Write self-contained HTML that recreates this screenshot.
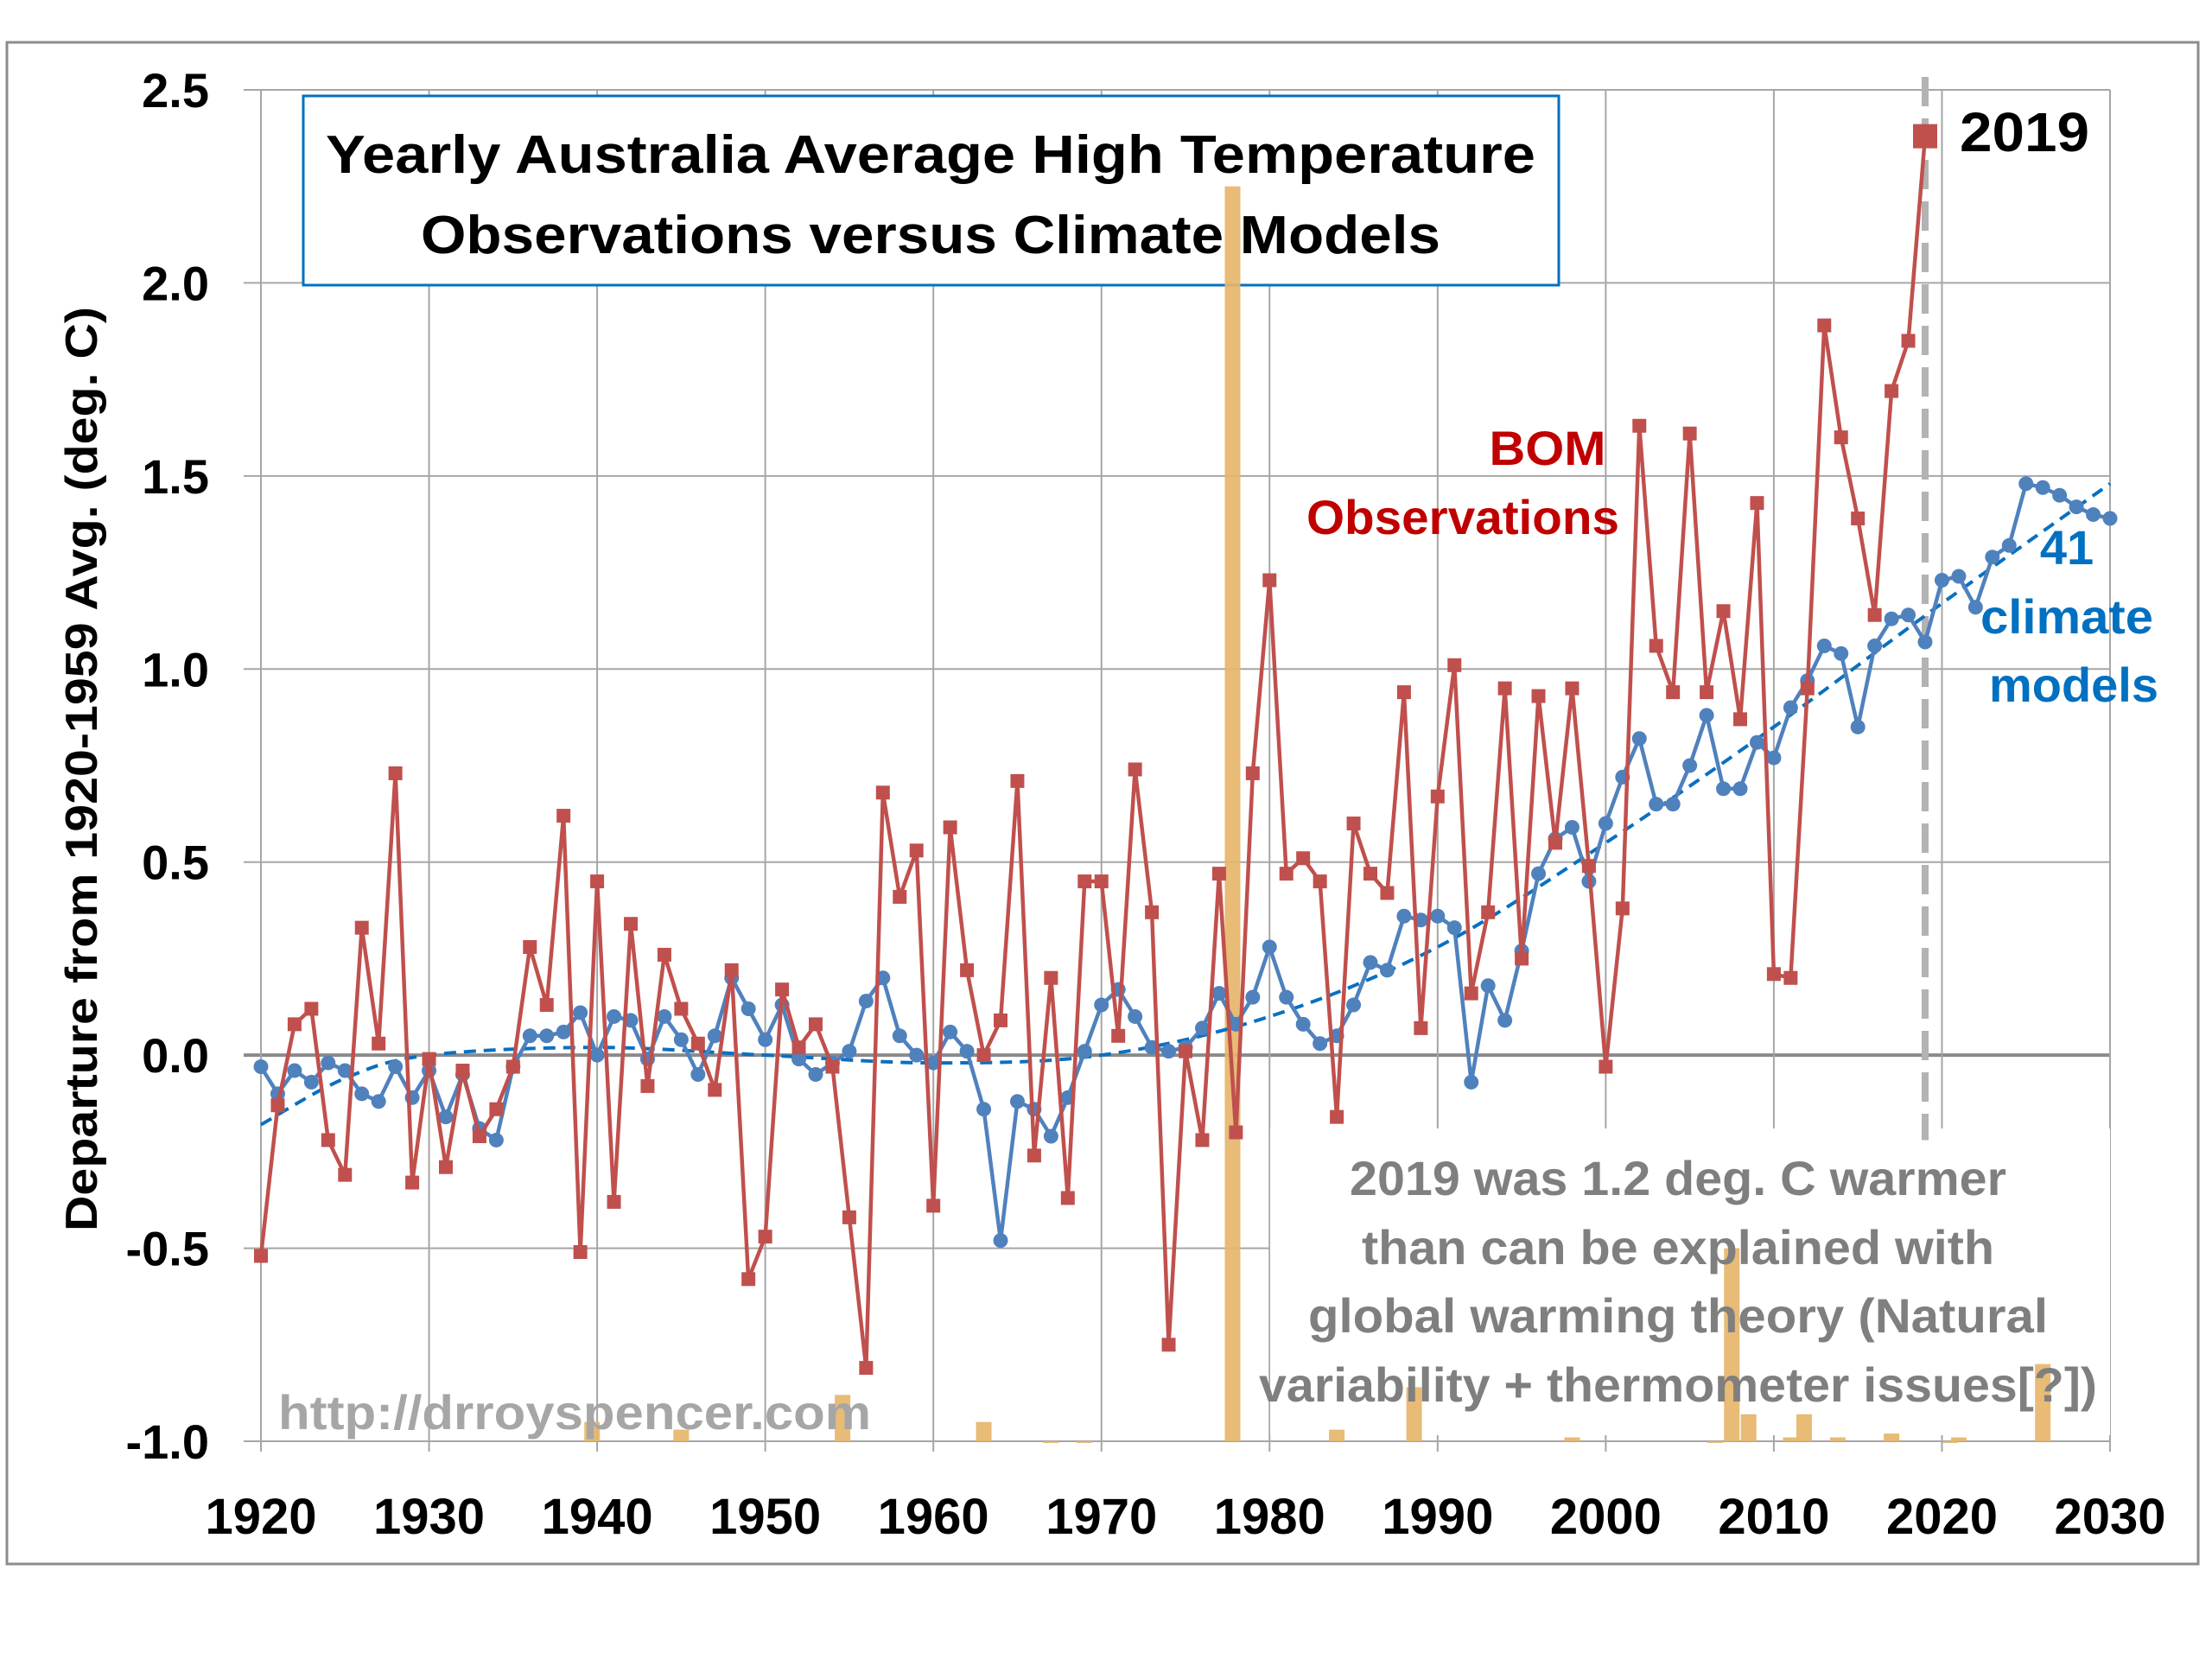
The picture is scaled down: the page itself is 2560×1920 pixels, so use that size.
<!DOCTYPE html>
<html><head><meta charset="utf-8"><style>
html,body{margin:0;padding:0;background:#fff;}
svg{display:block;}
text{font-family:"Liberation Sans",sans-serif;font-weight:bold;}
</style></head><body>
<svg id="chart" width="2560" height="1920" viewBox="0 0 2560 1920" xmlns="http://www.w3.org/2000/svg">
<rect x="8" y="49" width="2536" height="1761" fill="#fff" stroke="#8c8c8c" stroke-width="3"/>
<g id="grid"></g>
<rect x="1470" y="1306" width="972" height="355" fill="#fff"/>
<rect x="351" y="111" width="1453" height="219" fill="#fff" stroke="#0070c0" stroke-width="3"/>
<text x="1077" y="200" font-size="62" text-anchor="middle" textLength="1400" lengthAdjust="spacingAndGlyphs">Yearly Australia Average High Temperature</text>
<text x="1077" y="293" font-size="62" text-anchor="middle" textLength="1180" lengthAdjust="spacingAndGlyphs">Observations versus Climate Models</text>
<g id="bars"></g>
<g id="series"></g>
<g id="axes"></g>
<text transform="translate(112,890) rotate(-90)" x="0" y="0" font-size="52" text-anchor="middle" textLength="1070" lengthAdjust="spacingAndGlyphs">Departure from 1920-1959 Avg. (deg. C)</text>
<text x="1791" y="538" font-size="56" fill="#c00000" text-anchor="middle" textLength="135" lengthAdjust="spacingAndGlyphs">BOM</text>
<text x="1693" y="618" font-size="56" fill="#c00000" text-anchor="middle" textLength="362" lengthAdjust="spacingAndGlyphs">Observations</text>
<text x="2392" y="653" font-size="56" fill="#0070c0" text-anchor="middle">41</text>
<text x="2392" y="733" font-size="56" fill="#0070c0" text-anchor="middle" textLength="200" lengthAdjust="spacingAndGlyphs">climate</text>
<text x="2400" y="812" font-size="56" fill="#0070c0" text-anchor="middle" textLength="196" lengthAdjust="spacingAndGlyphs">models</text>
<text x="2268" y="175" font-size="64" fill="#000" textLength="150" lengthAdjust="spacingAndGlyphs">2019</text>
<text x="322" y="1654" font-size="56" fill="#a6a6a6" textLength="686" lengthAdjust="spacingAndGlyphs">http://drroyspencer.com</text>
<g fill="#7f7f7f" font-size="56" text-anchor="middle">
<text x="1942" y="1383" textLength="760" lengthAdjust="spacingAndGlyphs">2019 was 1.2 deg. C warmer</text>
<text x="1942" y="1463" textLength="732" lengthAdjust="spacingAndGlyphs">than can be explained with</text>
<text x="1942" y="1542" textLength="856" lengthAdjust="spacingAndGlyphs">global warming theory (Natural</text>
<text x="1942" y="1622" textLength="970" lengthAdjust="spacingAndGlyphs">variability + thermometer issues[?])</text>
</g>
</svg>
<script>
const bomYears = [];
for (let y = 1920; y <= 2019; y++) bomYears.push(y);
const bomValues = [-0.52,-0.13,0.08,0.12,-0.22,-0.31,0.33,0.03,0.73,-0.33,
-0.01,-0.29,-0.04,-0.21,-0.14,-0.03,0.28,0.13,0.62,-0.51,
0.45,-0.38,0.34,-0.08,0.26,0.12,0.03,-0.09,0.22,-0.58,
-0.47,0.17,0.02,0.08,-0.03,-0.42,-0.81,0.68,0.41,0.53,
-0.39,0.59,0.22,0.00,0.09,0.71,-0.26,0.20,-0.37,0.45,
0.45,0.05,0.74,0.37,-0.75,0.01,-0.22,0.47,-0.20,0.73,
1.23,0.47,0.51,0.45,-0.16,0.60,0.47,0.42,0.94,0.07,
0.67,1.01,0.16,0.37,0.95,0.25,0.93,0.55,0.95,0.49,
-0.03,0.38,1.63,1.06,0.94,1.61,0.94,1.15,0.87,1.43,
0.21,0.20,0.95,1.89,1.60,1.39,1.14,1.72,1.85,2.38];
const modelYears = [];
for (let y = 1920; y <= 2030; y++) modelYears.push(y);
const modelValues = [-0.03,-0.10,-0.04,-0.07,-0.02,-0.04,-0.10,-0.12,-0.03,-0.11,
-0.04,-0.16,-0.05,-0.19,-0.22,-0.03,0.05,0.05,0.06,0.11,
0.00,0.10,0.09,-0.01,0.10,0.04,-0.05,0.05,0.20,0.12,
0.04,0.13,-0.01,-0.05,-0.02,0.01,0.14,0.20,0.05,0.00,
-0.02,0.06,0.01,-0.14,-0.48,-0.12,-0.14,-0.21,-0.11,0.01,
0.13,0.17,0.10,0.02,0.01,0.02,0.07,0.16,0.08,0.15,
0.28,0.15,0.08,0.03,0.05,0.13,0.24,0.22,0.36,0.35,
0.36,0.33,-0.07,0.18,0.09,0.27,0.47,0.56,0.59,0.45,
0.60,0.72,0.82,0.65,0.65,0.75,0.88,0.69,0.69,0.81,
0.77,0.90,0.97,1.06,1.04,0.85,1.06,1.13,1.14,1.07,
1.23,1.24,1.16,1.29,1.32,1.48,1.47,1.45,1.42,1.40,1.39];
const trendYears = [1920,1925,1930,1940,1950,1960,1970,1980,1990,2000,2010,2020,2030];
const trendValues = [-0.18,-0.06,0.0,0.02,0.0,-0.02,0.0,0.1,0.28,0.55,0.85,1.17,1.48];
const barYears = [1939.7,1945,1954.6,1963,1967,1969,1977.8,1984,1988.6,1998,2006.5,2007.5,2008.5,2011,2011.8,2013.8,2017,2020.5,2021,2026];
const barValues = [-0.95,-0.97,-0.88,-0.95,-1.0,-1.0,2.25,-0.97,-0.86,-0.99,-1.0,-0.5,-0.93,-0.99,-0.93,-0.99,-0.98,-1.0,-0.99,-0.8];
const yTicks = ["-1.0","-0.5","0.0","0.5","1.0","1.5","2.0","2.5"];
const xTicks = ["1920","1930","1940","1950","1960","1970","1980","1990","2000","2010","2020","2030"];
const highlightYear = 2019;

const NS = "http://www.w3.org/2000/svg";
const X0 = 302, X1 = 2442, Y0 = 1668, Y1 = 104;
const xs = yr => X0 + (yr - 1920) / 110 * (X1 - X0);
const ys = v => Y0 - (v + 1) / 3.5 * (Y0 - Y1);
function mk(tag, attrs, parent) {
  const e = document.createElementNS(NS, tag);
  for (const k in attrs) e.setAttribute(k, attrs[k]);
  parent.appendChild(e);
  return e;
}
const grid = document.getElementById('grid');
const axes = document.getElementById('axes');
const bars = document.getElementById('bars');
const series = document.getElementById('series');

yTicks.forEach(t => {
  const v = parseFloat(t);
  const l = mk('line', {x1: 282, x2: X1, y1: ys(v), y2: ys(v), stroke: v === 0 ? '#8a8a8a' : '#a6a6a6', 'stroke-width': v === 0 ? 4 : 2}, grid);
  
  
  const tx = mk('text', {x: 242, y: ys(v) + 20, 'font-size': 56, 'text-anchor': 'end'}, axes);
  tx.textContent = t;
  
  
});
xTicks.forEach(t => {
  const yr = parseFloat(t);
  const l = mk('line', {x1: xs(yr), x2: xs(yr), y1: Y1, y2: Y0 + 12, stroke: '#a6a6a6', 'stroke-width': 2}, grid);
  
  
  const tx = mk('text', {x: xs(yr), y: 1775, 'font-size': 58, 'text-anchor': 'middle'}, axes);
  tx.textContent = t;
  
  
});

barYears.forEach((yr, i) => {
  const top = ys(barValues[i]);
  const r = mk('rect', {x: xs(yr) - 9, y: top, width: 18, height: Math.max(2, Y0 - top), fill: '#e6b56a', opacity: 0.92}, bars);
  
  
});

const dl = mk('line', {x1: xs(highlightYear), x2: xs(highlightYear), y1: Y1 - 15, y2: ys(-0.22), stroke: '#b3b3b3', 'stroke-width': 8, 'stroke-dasharray': '34 14'}, series);



function smoothPath(px, py) {
  let d = `M${px[0]},${py[0]}`;
  for (let i = 0; i < px.length - 1; i++) {
    const x0 = px[Math.max(0, i - 1)], y0 = py[Math.max(0, i - 1)];
    const x1 = px[i], y1 = py[i], x2 = px[i + 1], y2 = py[i + 1];
    const x3 = px[Math.min(px.length - 1, i + 2)], y3 = py[Math.min(px.length - 1, i + 2)];
    d += ` C${x1 + (x2 - x0) / 6},${y1 + (y2 - y0) / 6} ${x2 - (x3 - x1) / 6},${y2 - (y3 - y1) / 6} ${x2},${y2}`;
  }
  return d;
}
const tp = mk('path', {d: smoothPath(trendYears.map(xs), trendValues.map(ys)), fill: 'none', stroke: '#0a70c0', 'stroke-width': 4, 'stroke-dasharray': '14 9'}, series);



const mp = mk('polyline', {points: modelYears.map((y, i) => xs(y) + ',' + ys(modelValues[i])).join(' '), fill: 'none', stroke: '#4f81bd', 'stroke-width': 4.5}, series);


modelYears.forEach((y, i) => {
  const c = mk('circle', {cx: xs(y), cy: ys(modelValues[i]), r: 8.5, fill: '#4f81bd'}, series);
  
  
});

const bp = mk('polyline', {points: bomYears.map((y, i) => xs(y) + ',' + ys(bomValues[i])).join(' '), fill: 'none', stroke: '#c0504d', 'stroke-width': 4.5}, series);


bomYears.forEach((y, i) => {
  const s = y === highlightYear ? 28 : 16;
  const r = mk('rect', {x: xs(y) - s / 2, y: ys(bomValues[i]) - s / 2, width: s, height: s, fill: '#c0504d'}, series);
  
  
});
</script>
</body></html>
